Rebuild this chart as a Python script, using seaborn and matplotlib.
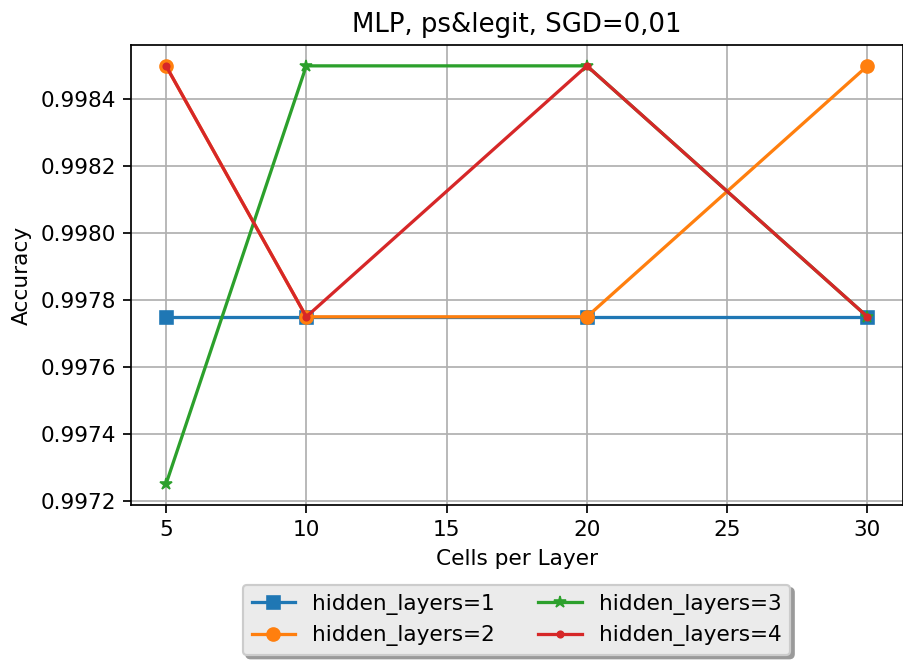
from matplotlib import pyplot as plt
import seaborn as sns
import pandas as pd
import numpy as np

cells = [5, 10, 20, 30]
acc_h1 = [0.99775, 0.99775, 0.99775, 0.99775]
acc_h2 = [0.9985, 0.99775, 0.99775, 0.9985]
acc_h3 = [0.99725, 0.9985, 0.9985, 0.99775]
acc_h4 = [0.9985, 0.99775, 0.9985, 0.99775]
labels = ["hidden_layers=1", "hidden_layers=2", "hidden_layers=3", "hidden_layers=4"]
markers = ["s", "o", "*", "."]
colors = ["#1f77b4", "#ff7f0e", "#2ca02c", "#d62728"]

fig, ax = plt.subplots(figsize=(903 / 156, 661 / 156), dpi=156)
fig.subplots_adjust(left=0.145, right=0.9995, top=0.932, bottom=0.236)

for acc, lab, m, c in zip([acc_h1, acc_h2, acc_h3, acc_h4], labels, markers, colors):
    df = pd.DataFrame({"cells": cells, "acc": acc})
    sns.lineplot(data=df, x="cells", y="acc", marker=m, color=c, label=lab,
                 markersize=6, markeredgecolor=c, linewidth=1.5, ax=ax)

yt = np.arange(0.9972, 0.99841, 0.0002)
ax.set_yticks(yt)
ax.set_yticklabels([f"{v:.4f}" for v in yt])
ax.grid(True)
ax.set_title("MLP, ps&legit, SGD=0,01")
ax.set_xlabel("Cells per Layer")
ax.set_ylabel("Accuracy")
leg = ax.legend(loc="upper center", bbox_to_anchor=(0.5, -0.15), ncol=2,
                shadow={"ox": 1.5, "oy": -1.5, "color": "#9a9a9a", "alpha": 1},
                facecolor="#ebebeb", framealpha=1, edgecolor="#cccccc")

plt.savefig("out.png", dpi=156)
